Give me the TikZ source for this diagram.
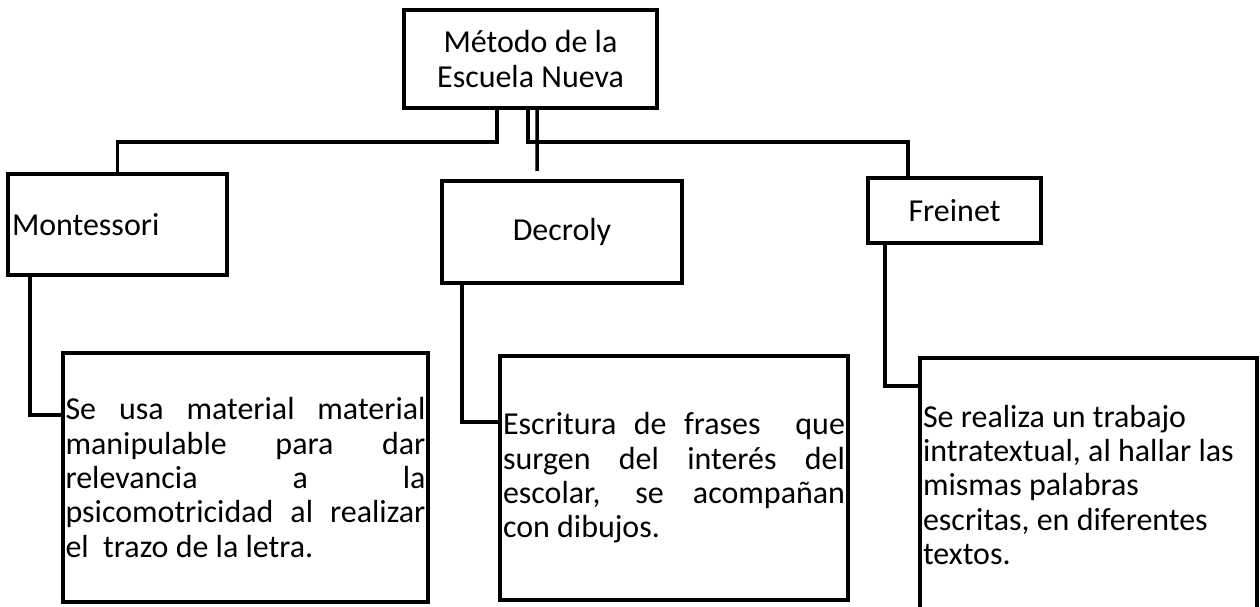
\documentclass[tikz,border=0pt]{standalone}
\usepackage{fontspec}
\setmainfont{Carlito}
\usepackage{tikz}
\usetikzlibrary{positioning, calc}

\tikzset{
	caja/.style={draw, rectangle, line width=2.3pt, inner ysep=0pt, font=\fontsize{18.2}{19.5}\selectfont},
	linea/.style={line width=2pt}
}

\begin{document}
\begin{tikzpicture}[x=0.02cm, y=-0.02cm]
		\useasboundingbox (0,0) rectangle (1260,606);
		\clip (0,0) rectangle (1260,606);
		
		\node (Metodo) at (530.5,59) [caja, minimum height=1.96cm, minimum 
		width=5.06cm, text centered, align=center]{M\'etodo de la\\Escuela Nueva};
		
		\node (Montessori) at (117.5,224.5) [caja, minimum height=2.02cm, minimum 
		width=4.38cm, inner xsep=0.08cm, text width=4.22cm, align=flush left]{Montessori};
		\node (Decroly) at (562,232) [caja, minimum height=2.04cm, minimum 
		width=4.8cm, text centered]{Decroly};
		\node (Freinet) at (954.5,210.5) [caja, minimum height=1.3cm, minimum 
		width=3.46cm, text centered]{Freinet};
		
		\node (Desc Montessori) at (245.5,477.5) [caja, minimum height=4.98cm, minimum 
		width=7.3cm, inner xsep=0.05cm, text width=7.2cm, align=justify]{Se usa material material\linebreak 
		manipulable para dar\linebreak relevancia a la\linebreak psicomotricidad al realizar\linebreak el\ \ trazo de la letra.};
		\node (Desc Decroly) at (674,478) [caja, minimum height=4.88cm, minimum 
		width=6.96cm, inner xsep=0.06cm, text width=6.84cm, align=justify]{Escritura de frases \ que\linebreak 
		surgen del inter\'es del\linebreak escolar, se acompa\~nan\linebreak con dibujos.};
		\node (Desc Freinet) at (1088.5,485) [caja, minimum height=5.08cm, minimum 
		width=6.74cm, inner xsep=0.06cm, text width=6.62cm, align=flush left]{Se realiza un trabajo\\ 
		intratextual, al hallar las\\ mismas palabras\\ escritas, en diferentes\\ textos.};
		
		\draw[linea] ($(Metodo.south)+(-33.5,0)$) -- ++(0,32) -| (Montessori.north);
		\draw[linea] ($(Metodo.south)+(-2.5,0)$) -- ++(0,32) -| ($(Freinet.north)+(-46.5,0)$);
		\draw[linea] ($(Metodo.south)+(6.5,0)$) -- ($(Decroly.north)+(-25,-8)$);
		
		\draw[linea] ($(Montessori.south west)+(24,0)$) |- ($(Desc Montessori.north west)+(0,64)$);
		\draw[linea] ($(Decroly.south west)+(22,0)$) |- ($(Desc Decroly.north west)+(0,68)$);
		\draw[linea] ($(Freinet.south west)+(19,0)$) |- ($(Desc Freinet.north west)+(0,30)$);
\end{tikzpicture}
\end{document}
